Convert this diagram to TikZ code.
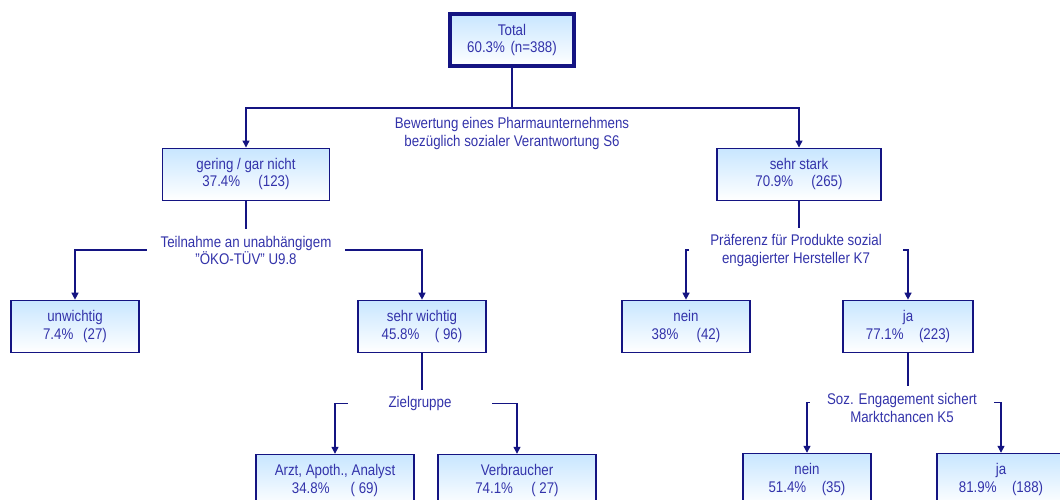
\documentclass[tikz,border=0pt]{standalone}
\usepackage{fontspec}
\setmainfont[FakeStretch=0.86]{Liberation Sans}
\usepackage{tikz}
\usetikzlibrary{arrows.meta, positioning}
\definecolor{treenavy}{RGB}{20,20,130}
\definecolor{treetext}{RGB}{51,51,170}
\definecolor{boxtop}{RGB}{200,230,255}

\begin{document}
\begin{tikzpicture}[
    box/.style={
      rectangle, draw=treenavy, line width=0.8pt,
      top color=boxtop, bottom color=white,
      minimum width=3.2cm, minimum height=1.3cm,
      font=\fontsize{11}{12.5}\selectfont, text=treetext,
      align=center, inner sep=2pt
    },
    rootbox/.style={box, line width=2.2pt, minimum width=3.1cm, minimum height=1.3cm},
    qlabel/.style={
      fill=white, text=treetext, align=center,
      font=\fontsize{11}{12.5}\selectfont,
      inner xsep=10pt, inner ysep=5pt
    },
    arr/.style={-{Triangle[length=5pt,width=5pt]}, line width=0.9pt, treenavy}
  ]
    \useasboundingbox (0,0) rectangle (26.5,-12.5);

    % Level 0 - Total
    \node[rootbox] (total) at (12.8,-1.0) {Total\\60.3\%\hspace{4pt}(n=388)};

    % Level 1 - S6
    \node[box, minimum width=4.175cm, below=2.0cm of total, xshift=-6.65cm] (gering) {gering / gar nicht\\37.4\%\hspace{13pt}(123)};
    \node[box, minimum width=4.1cm, below=2.0cm of total, xshift=7.175cm]   (stark)  {sehr stark\\70.9\%\hspace{13pt}(265)};

    % Level 2 - U9.8 and K7
    \node[box, below=2.475cm of gering, xshift=-4.275cm] (unw)     {unwichtig\\7.4\%\hspace{7pt}(27)};
    \node[box, below=2.475cm of gering, xshift=4.4cm]    (wichtig) {sehr wichtig\\45.8\%\hspace{11pt}( 96)};
    \node[box, below=2.475cm of stark, xshift=-2.825cm]  (nein1)   {nein\\38\%\hspace{13pt}(42)};
    \node[box, minimum width=3.25cm, below=2.475cm of stark, xshift=2.725cm] (ja1) {ja\\77.1\%\hspace{11pt}(223)};

    % Level 3 - Zielgruppe and K5
    \node[box, minimum width=3.95cm, below=2.525cm of wichtig, xshift=-2.175cm] (arzt) {Arzt, Apoth., Analyst\\34.8\%\hspace{15pt}( 69)};
    \node[box, minimum width=3.95cm, below=2.525cm of wichtig, xshift=2.375cm]  (verb) {Verbraucher\\74.1\%\hspace{13pt}( 27)};
    \node[box, below=2.5cm of ja1, xshift=-2.525cm] (nein2) {nein\\51.4\%\hspace{11pt}(35)};
    \node[box, below=2.5cm of ja1, xshift=2.325cm]  (ja2)   {ja\\81.9\%\hspace{11pt}(188)};

    % Arrows
    \draw[arr] (total)   -- ++(0,-1.7)   -| (gering);
    \draw[arr] (total)   -- ++(0,-1.7)   -| (stark);
    \draw[arr] (gering)  -- ++(0,-1.9)   -| (unw);
    \draw[arr] (gering)  -- ++(0,-1.9)   -| (wichtig);
    \draw[arr] (stark)   -- ++(0,-1.9)   -| (nein1);
    \draw[arr] (stark)   -- ++(0,-1.9)   -| (ja1);
    \draw[arr] (wichtig) -- ++(0,-1.925) -| (arzt);
    \draw[arr] (wichtig) -- ++(0,-1.925) -| (verb);
    \draw[arr] (ja1)     -- ++(0,-1.9)   -| (nein2);
    \draw[arr] (ja1)     -- ++(0,-1.9)   -| (ja2);

    % Split labels
    \node[qlabel, fill=none] (q1) at ([yshift=-1.65cm]total.south) {Bewertung eines Pharmaunternehmens\\bezüglich sozialer Verantwortung S6};
    \node[qlabel] (q2) at ([yshift=-1.25cm]gering.south) {Teilnahme an unabhängigem\\"ÖKO-TÜV" U9.8};
    \node[qlabel, inner xsep=15pt] (q3) at ([xshift=-0.075cm, yshift=-1.25cm]stark.south) {Präferenz für Produkte sozial\\engagierter Hersteller K7};
    \node[qlabel, inner xsep=29pt] (q4) at ([xshift=-0.05cm, yshift=-1.275cm]wichtig.south) {Zielgruppe};
    \node[qlabel, inner xsep=12pt] (q5) at ([xshift=-0.15cm, yshift=-1.375cm]ja1.south) {Soz. Engagement sichert\\Marktchancen K5};

  \end{tikzpicture}
\end{document}
